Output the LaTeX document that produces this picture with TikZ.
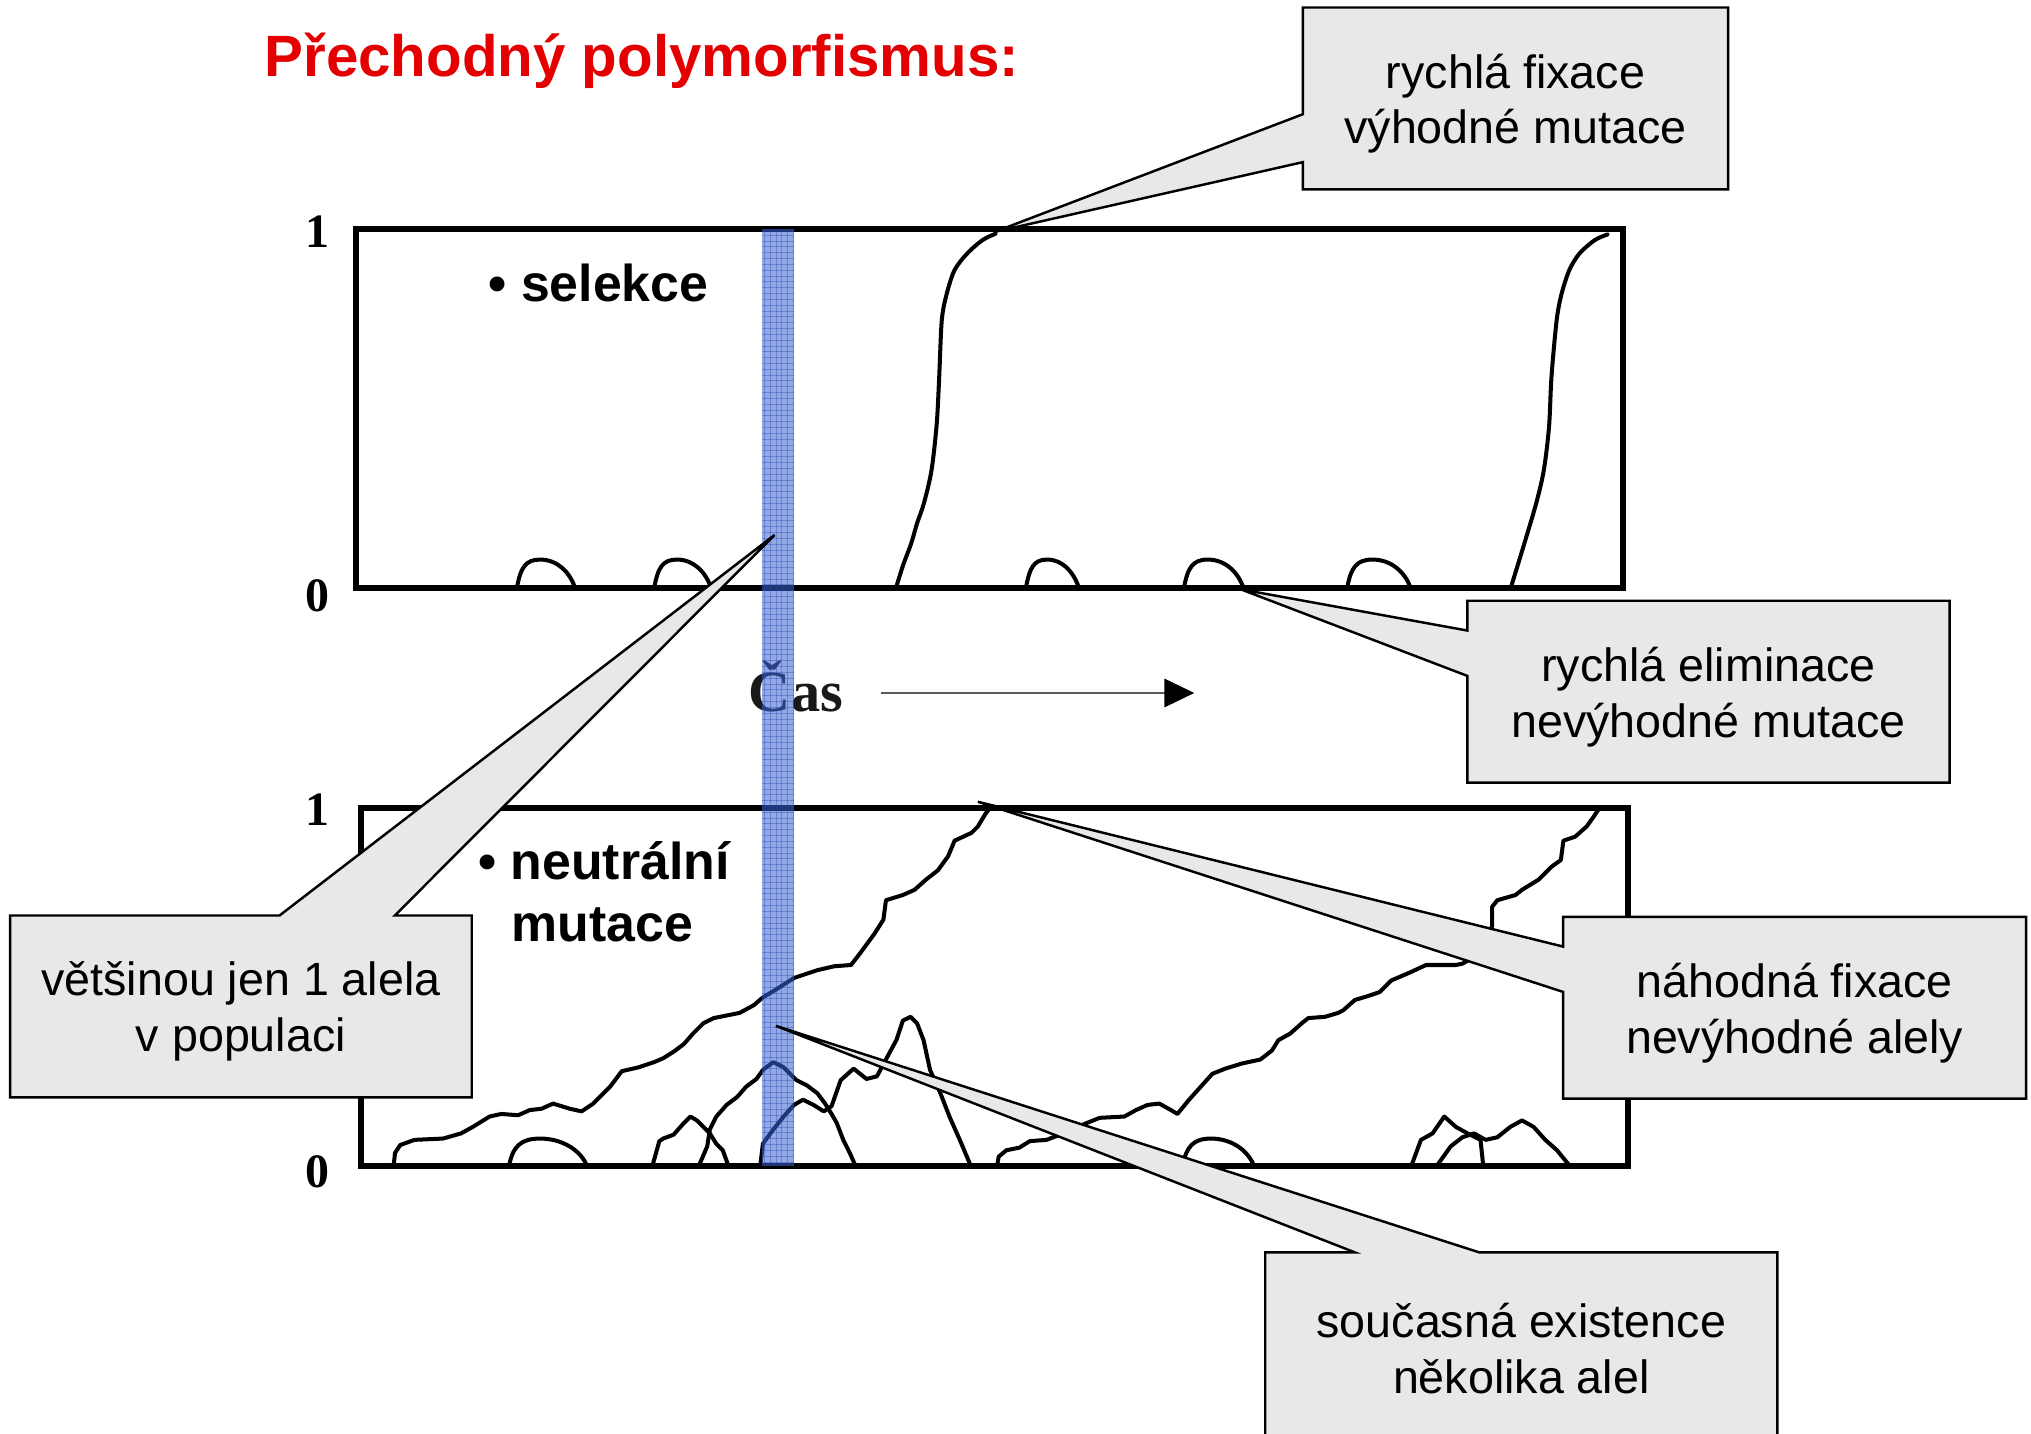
\documentclass[tikz,border=0pt]{standalone}
\usepackage{fontspec}
\setmainfont{Liberation Sans}
\newfontfamily\tnr{Liberation Serif}
\usetikzlibrary{arrows.meta,calc}
\pgfdeclarelayer{co}
\pgfdeclarelayer{cot}
\pgfsetlayers{main,co,cot}
\definecolor{titlered}{RGB}{228,0,0}
\definecolor{boxgray}{RGB}{232,232,232}
\definecolor{bandblue}{RGB}{60,100,210}
\definecolor{gridblue}{RGB}{30,60,170}
\begin{document}
\begin{tikzpicture}[x=1pt,y=-1pt,
  frame/.style={line width=4.5pt, line join=miter},
  curve/.style={line width=3.1pt, line join=round, line cap=round, black},
  axlab/.style={font=\tnr\bfseries\fontsize{37}{37}\selectfont, inner sep=0},
  bullet/.style={font=\bfseries\fontsize{40}{48}\selectfont, inner sep=0, anchor=base west},
  cbox/.style={draw=none, inner sep=0},
  ctext/.style={align=center, inner sep=0, font=\fontsize{36}{43}\selectfont, text=black},
  cshape/.style={fill=boxgray, draw=black, line width=1.9pt, line join=miter},
]
\useasboundingbox (0,0) rectangle (1568,1107);
\clip (0,0) rectangle (1568,1107);
\fill[white] (0,0) rectangle (1568,1107);

% title
\node[anchor=base west, inner sep=0, text=titlered, font=\bfseries\fontsize{45}{45}\selectfont] (title) at (204,59) {Přechodný polymorfismus:};

% panels
\draw[frame] (275,177) rectangle (1253,454);
\draw[frame] (279,624) rectangle (1257,900);
\node[axlab] (t1lab) at (245,179) {1};
\node[axlab] (t0lab) at (245,460) {0};
\node[axlab] (b1lab) at (245,625) {1};
\node[axlab] (b0lab) at (245,905) {0};

\node[bullet] (sel) at (377,233) {•~selekce};
\node[bullet] (neu) at (369,679) {•~neutrální};
\node[bullet] (mut) at (395,727) {mutace};

% top panel curves
\draw[curve] plot[smooth, tension=0.5] coordinates {(691.7,454) (697,437) (703.5,419.4) (708,404) (713.3,388.5) (719.2,362.8) (723.2,326.8) (725.1,290.8) (727.1,247) (731,226.4) (737,208.4) (746.8,195.6) (758.6,185.3) (768.5,180.5)};
\draw[curve] plot[smooth, tension=0.5] coordinates {(1166.3,454) (1176.1,422) (1186,388.5) (1191.9,362.8) (1195.9,329.4) (1197.8,290.8) (1201.8,247) (1205.7,226.4) (1211.6,208.4) (1219.5,195.6) (1231.3,185.3) (1241.1,181)};
\foreach \a/\b in {399/444, 505/549, 792/833, 914/960, 1040/1089}{
  \draw[curve] (\a,454) .. controls ({\a+3},438) and ({\a+0.15*(\b-\a)},432) .. ({\a+0.4*(\b-\a)},432) .. controls ({\a+0.7*(\b-\a)},432) and ({\b-4},442) .. (\b,454);
}

% bottom panel curves
\foreach \a/\b in {393/453, 913/968}{
  \draw[curve] (\a,900) .. controls ({\a+3},885) and ({\a+0.15*(\b-\a)},879) .. ({\a+0.4*(\b-\a)},879) .. controls ({\a+0.7*(\b-\a)},879) and ({\b-4},889) .. (\b,900);
}
\draw[curve] plot coordinates {(304,899) (305,890) (309,884) (320,880) (342,879) (356,875) (365,870) (378,862) (387,860) (400,861) (409,857) (418,856) (427,852) (440,856) (449,858) (458,852) (471,839) (480,827) (493,824) (505,820) (512,817) (520,812) (528,806) (535,798) (543,790) (551,786) (561,784) (571,782) (582,776) (589,770) (599,764) (613,755) (631,749) (644,746) (657,745) (664,736) (675,721) (682,710) (684,695) (697,691) (706,687) (715,679) (724,672) (732,661) (737,649) (750,643) (755,638) (761,628) (764,624)};
\draw[curve] plot coordinates {(770,899) (771,893) (777,888) (787,886) (795,881) (808,880) (821,875) (839,867) (849,863) (868,862) (877,857) (886,853) (895,852) (904,857) (909,860) (918,849) (927,839) (936,829) (946,825) (959,821) (973,818) (982,811) (987,803) (996,798) (1005,790) (1010,786) (1023,785) (1033,782) (1037,780) (1046,772) (1056,769) (1065,766) (1074,757) (1088,751) (1101,745) (1124,745) (1129,744) (1143,736) (1152,715) (1152,700) (1156,695) (1170,691) (1175,687) (1188,679) (1198,669) (1205,664) (1207,649) (1216,646) (1225,638) (1230,631) (1234,625)};
\draw[curve] plot coordinates {(504,899) (509,881) (512,879) (520,876) (528,867) (533,862) (538,865) (543,870) (548,875) (553,883) (558,888) (562,899)};
\draw[curve] plot coordinates {(540,899) (546,885) (548,872) (553,862) (561,853) (569,847) (576,839) (584,833) (589,826) (597,820) (605,824) (610,829) (615,834) (623,838) (631,844) (637,852) (642,860) (646,867) (651,880) (656,890) (660,899)};
\draw[curve] plot coordinates {(587,899) (589,883) (597,872) (605,862) (613,853) (620,849) (628,853) (636,858) (642,854) (649,834) (659,825) (669,833) (677,831) (685,816) (692,803) (697,788) (703,785) (708,790) (713,803) (718,826) (726,844) (733,862) (741,880) (749,899)};
\draw[curve] plot coordinates {(1090,899) (1097,880) (1106,875) (1115,862) (1124,870) (1133,875) (1143,880) (1145,899)};
\draw[curve] plot coordinates {(1110,899) (1120,885) (1129,878) (1138,875) (1147,880) (1156,878) (1166,870) (1175,865) (1184,870) (1193,880) (1202,888) (1211,899)};

% time label and arrow
\node[anchor=base west, inner sep=0, font=\tnr\bfseries\fontsize{45}{45}\selectfont, text={rgb,255:red,25;green,25;blue,25}] (cas) at (578,549) {Čas};
\coordinate (arrS) at (680,535);
\coordinate (arrE) at (922,535);
\draw[line width=1.1pt, draw={rgb,255:red,90;green,90;blue,90}, -{Triangle[length=23pt,width=22pt,color=black]}] (arrS) -- (arrE);

% highlighted time slice
\fill[bandblue, fill opacity=0.55] (588,177) rectangle (613,900);
\begin{scope}
  \clip (588,177) rectangle (613,900);
  \foreach \yy in {177,181.5,...,900} \draw[gridblue, opacity=0.35, line width=0.5pt] (588,\yy) -- (613,\yy);
  \foreach \xx in {590,594.5,...,613} \draw[gridblue, opacity=0.35, line width=0.5pt] (\xx,177) -- (\xx,900);
\end{scope}

% callouts
\coordinate (tip1) at (768,179);
\coordinate (tip2) at (958,455);
\coordinate (tip3) at (598,413);
\coordinate (tip4) at (755,619);
\coordinate (tip5) at (599,792);

\begin{pgfonlayer}{cot}
\node[cbox, minimum width=328pt, minimum height=140pt] (c1) at (1170,76) {};
\node[cbox, minimum width=372pt, minimum height=140pt] (c2) at (1319,534) {};
\node[cbox, minimum width=356pt, minimum height=140pt] (c3) at (186,777) {};
\node[cbox, minimum width=357pt, minimum height=140pt] (c4) at (1385.5,778) {};
\node[cbox, minimum width=395pt, minimum height=142pt] (c5) at (1174.5,1038) {};
\node[ctext] (ct1) at ([yshift=-4pt]c1.center) {rychlá fixace\\výhodné mutace};
\node[ctext] (ct2) at ([yshift=-4pt]c2.center) {rychlá eliminace\\nevýhodné mutace};
\node[ctext] (ct3) at ([yshift=-4pt]c3.center) {většinou jen 1 alela\\v populaci};
\node[ctext] (ct4) at ([yshift=-4pt]c4.center) {náhodná fixace\\nevýhodné alely};
\node[ctext] (ct5) at ([yshift=-3pt]c5.center) {současná existence\\několika alel};
\end{pgfonlayer}

\begin{pgfonlayer}{co}
\draw[cshape] (c1.north west) -- (c1.north east) -- (c1.south east) -- (c1.south west) -- ([yshift=21pt]c1.south west) -- (tip1) -- ([yshift=58pt]c1.south west) -- cycle;
\draw[cshape] (c2.north west) -- (c2.north east) -- (c2.south east) -- (c2.south west) -- ([yshift=-58pt]c2.north west) -- (tip2) -- ([yshift=-23pt]c2.north west) -- cycle;
\draw[cshape] (c3.north west) -- ([xshift=208pt]c3.north west) -- (tip3) -- ([xshift=297pt]c3.north west) -- (c3.north east) -- (c3.south east) -- (c3.south west) -- cycle;
\draw[cshape] (c4.north west) -- (c4.north east) -- (c4.south east) -- (c4.south west) -- ([yshift=-58pt]c4.north west) -- (tip4) -- ([yshift=-23pt]c4.north west) -- cycle;
\draw[cshape] (c5.north west) -- ([xshift=69pt]c5.north west) -- (tip5) -- ([xshift=165pt]c5.north west) -- (c5.north east) -- (c5.south east) -- (c5.south west) -- cycle;
\end{pgfonlayer}
\end{tikzpicture}
\end{document}
